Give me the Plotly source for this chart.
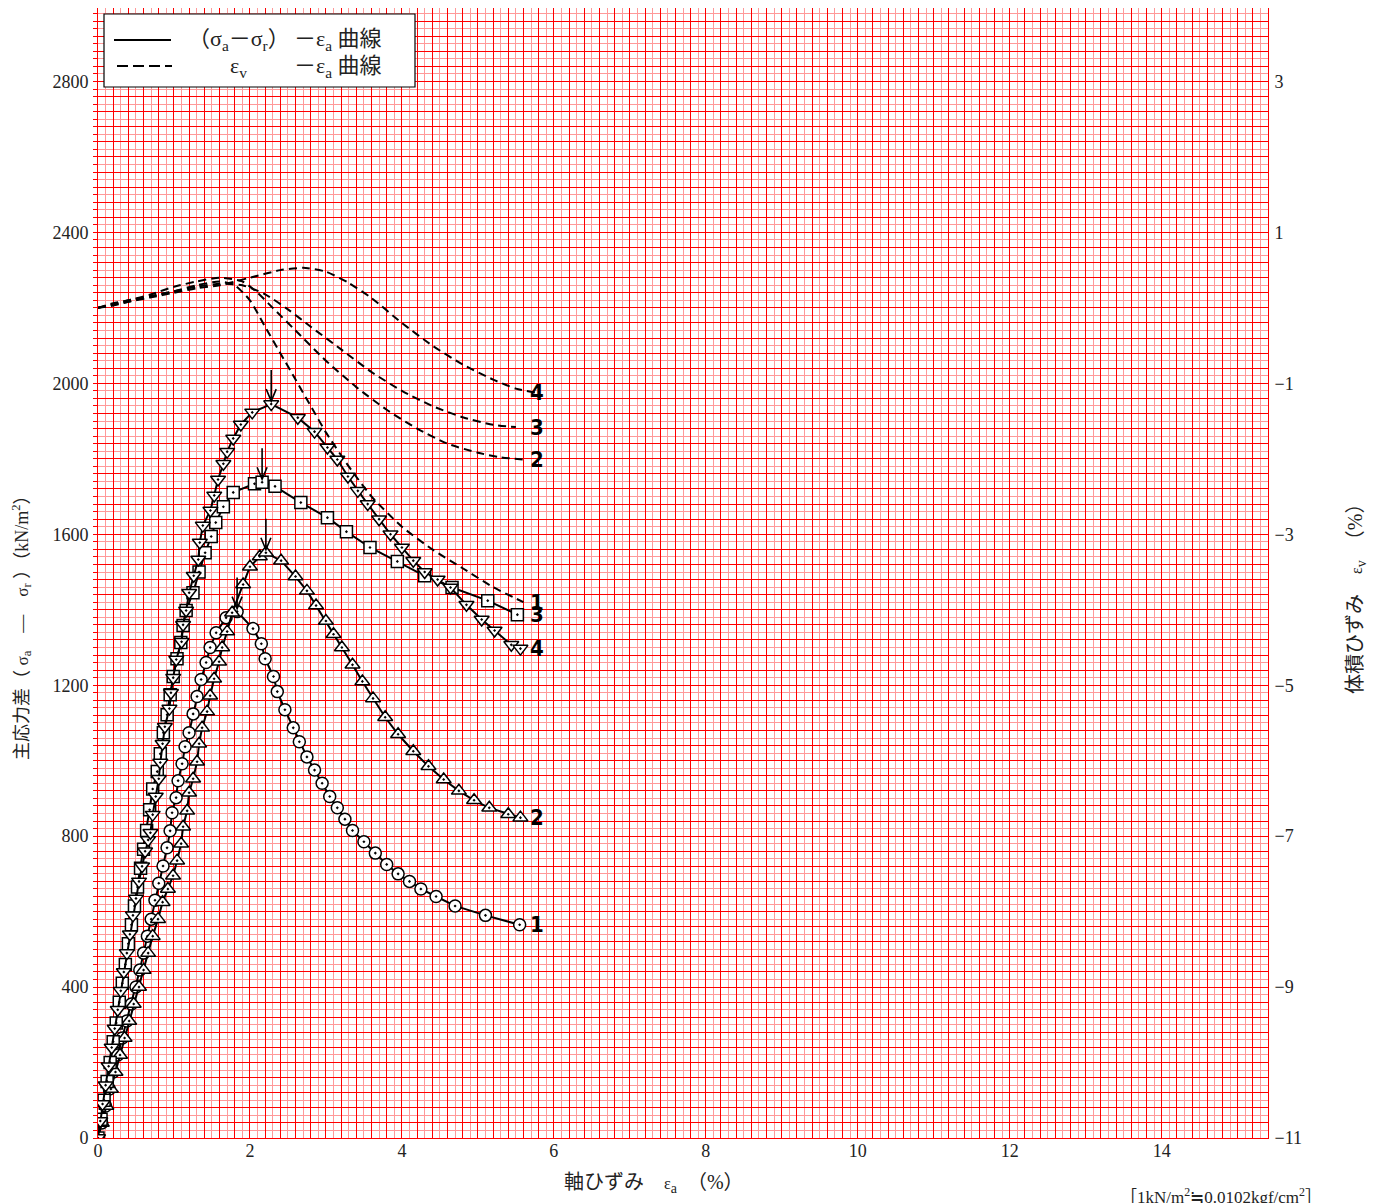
import plotly.graph_objects as go

# ---------------- data ----------------
# curve 1 : circles
c1_x = [0, 0.05, 0.1, 0.15, 0.2, 0.26, 0.32, 0.38, 0.44, 0.5, 0.55, 0.6, 0.65, 0.7, 0.75, 0.8,
        0.856, 0.909, 0.949, 0.975, 1.028, 1.054, 1.107, 1.146, 1.199, 1.252, 1.304, 1.357,
        1.423, 1.476, 1.555, 1.686, 1.831, 2.04, 2.15, 2.20, 2.31, 2.36, 2.46, 2.57, 2.65,
        2.75, 2.85, 2.95, 3.05, 3.15, 3.25, 3.35, 3.5, 3.65, 3.8, 3.95, 4.1, 4.25, 4.45, 4.7,
        5.1, 5.55]
c1_y = [0, 40, 85, 130, 175, 220, 265, 310, 355, 400, 445, 490, 535, 580, 630, 675,
        721, 769, 814, 862, 902, 947, 992, 1037, 1074, 1124, 1170, 1215,
        1260, 1300, 1339, 1379, 1395, 1350, 1310, 1270, 1223, 1183, 1135, 1087, 1050,
        1010, 975, 940, 905, 875, 845, 815, 785, 755, 725, 700, 680, 660, 640, 615,
        590, 565]

# curve 2 : triangles up
c2_x = [0, 0.05, 0.11, 0.17, 0.23, 0.29, 0.35, 0.41, 0.47, 0.54, 0.6, 0.66, 0.72, 0.79, 0.85,
        0.92, 0.988, 1.041, 1.094, 1.120, 1.173, 1.199, 1.252, 1.304, 1.331, 1.370, 1.436,
        1.476, 1.528, 1.594, 1.634, 1.700, 1.765, 1.910, 2.0, 2.13, 2.21, 2.41, 2.60, 2.75,
        2.87, 3.0, 3.1, 3.21, 3.35, 3.48, 3.62, 3.78, 3.95, 4.15, 4.35, 4.55, 4.75, 4.95,
        5.15, 5.4, 5.56]
c2_y = [0, 40, 85, 130, 175, 220, 265, 310, 355, 400, 445, 490, 535, 580, 625,
        660, 695, 735, 780, 825, 867, 915, 952, 997, 1045, 1087, 1130,
        1172, 1217, 1262, 1300, 1342, 1392, 1467, 1514, 1541, 1551, 1530, 1488, 1450,
        1411, 1370, 1335, 1300, 1254, 1210, 1165, 1115, 1070, 1025, 985, 950, 920, 895,
        875, 858, 849]

# curve 3 : squares
c3_x = [0, 0.04, 0.08, 0.12, 0.16, 0.2, 0.24, 0.28, 0.32, 0.36, 0.4, 0.44, 0.48, 0.52, 0.56,
        0.6, 0.64, 0.68, 0.72, 0.78, 0.82, 0.86, 0.91, 0.95, 0.99, 1.04, 1.09, 1.12, 1.16,
        1.25, 1.33, 1.41, 1.49, 1.55, 1.65, 1.78, 2.06, 2.16, 2.33, 2.67, 3.02, 3.27, 3.58,
        3.94, 4.30, 4.66, 5.13, 5.52]
c3_y = [0, 50, 100, 150, 200, 255, 305, 360, 410, 460, 515, 565, 615, 665, 715,
        765, 815, 870, 925, 971, 1018, 1074, 1122, 1175, 1223, 1270, 1313, 1358, 1398,
        1445, 1500, 1551, 1594, 1631, 1673, 1711, 1734, 1738, 1727, 1684, 1644, 1607, 1565,
        1528, 1490, 1459, 1424, 1387]

# curve 4 : triangles down
c4_x = [0, 0.03, 0.06, 0.1, 0.14, 0.18, 0.22, 0.26, 0.3, 0.34, 0.38, 0.42, 0.46, 0.5, 0.54,
        0.58, 0.62, 0.66, 0.69, 0.72, 0.76, 0.80, 0.82, 0.85, 0.88, 0.94, 0.96, 0.99, 1.03,
        1.10, 1.12, 1.16, 1.20, 1.26, 1.32, 1.34, 1.38, 1.48, 1.53, 1.58, 1.65, 1.70, 1.78,
        1.88, 2.03, 2.28, 2.63, 2.85, 3.02, 3.15, 3.29, 3.42, 3.55, 3.7, 3.85, 4.0, 4.15,
        4.3, 4.47, 4.64, 4.85, 5.05, 5.22, 5.44, 5.56]
c4_y = [0, 45, 90, 140, 190, 240, 290, 340, 390, 440, 490, 540, 590, 635, 680,
        720, 760, 790, 809, 857, 905, 952, 995, 1045, 1090, 1138, 1180, 1220, 1268,
        1315, 1360, 1398, 1445, 1490, 1533, 1578, 1623, 1663, 1703, 1745, 1787, 1819, 1854,
        1891, 1923, 1945, 1909, 1872, 1830, 1798, 1753, 1715, 1680, 1640, 1600, 1565, 1530,
        1500, 1480, 1459, 1413, 1374, 1345, 1307, 1297]

# volumetric strain curves (right axis, %)
v1_x = [0, 0.2, 0.4, 0.7, 1.0, 1.3, 1.6, 1.8, 2.0, 2.2, 2.4, 2.6, 2.8, 3.0, 3.3, 3.6, 4.0, 4.4, 4.8, 5.2, 5.6]
v1_y = [0, 0.05, 0.1, 0.15, 0.22, 0.3, 0.35, 0.3, 0.1, -0.25, -0.6, -0.95, -1.3, -1.65, -2.1, -2.5, -2.9, -3.2, -3.45, -3.7, -3.9]
v2_x = [0, 0.2, 0.4, 0.7, 1.0, 1.3, 1.6, 1.9, 2.1, 2.3, 2.6, 3.0, 3.4, 3.8, 4.2, 4.6, 5.0, 5.3, 5.6]
v2_y = [0, 0.06, 0.1, 0.18, 0.28, 0.35, 0.4, 0.35, 0.2, 0.0, -0.3, -0.7, -1.05, -1.35, -1.6, -1.8, -1.92, -1.98, -2.01]
v3_x = [0, 0.2, 0.4, 0.7, 1.0, 1.3, 1.6, 1.9, 2.2, 2.5, 2.8, 3.2, 3.6, 4.0, 4.4, 4.8, 5.2, 5.5]
v3_y = [0, 0.03, 0.08, 0.16, 0.22, 0.28, 0.32, 0.3, 0.18, -0.02, -0.25, -0.55, -0.85, -1.1, -1.3, -1.45, -1.55, -1.58]
v4_x = [0, 0.2, 0.4, 0.7, 1.0, 1.3, 1.6, 2.0, 2.4, 2.7, 3.0, 3.3, 3.6, 4.0, 4.4, 4.8, 5.2, 5.5, 5.75]
v4_y = [0, 0.04, 0.08, 0.14, 0.2, 0.26, 0.3, 0.4, 0.5, 0.53, 0.48, 0.33, 0.13, -0.2, -0.5, -0.75, -0.95, -1.07, -1.12]

curve_labels = ["1", "2", "3", "4"]
x_tick_vals = [0, 2, 4, 6, 8, 10, 12, 14]
y_tick_vals = [0, 400, 800, 1200, 1600, 2000, 2400, 2800]
y2_tick_vals = [-11, -9, -7, -5, -3, -1, 1, 3]

# ---------------- layout helpers ----------------
# page has an 8px body margin; the figure is sized so that it ends at the window edge
OFF = 8
W, H = 1383 - OFF, 1203 - OFF
L, R, T, B = 98, 1268, 8, 1138          # plot-area edges in page pixels
PX_PER_Y = 1132 / 3000.0                  # pixels per kN/m^2
XMAX = 15.4
YMAX = (B - T) / PX_PER_Y
Y2MIN = -11.0
Y2MAX = Y2MIN + YMAX / 200.0


def pxx(p):
    return (p - L) / (R - L)


def pxy(p):
    return (B - p) / (B - T)


UX = XMAX / (R - L)        # data units per pixel, x
UY = YMAX / (B - T)        # data units per pixel, y

SERIF = "Liberation Serif, DejaVu Serif, Noto Sans CJK JP, serif"
JP = "Liberation Serif, Noto Sans CJK JP, serif"
LABELF = dict(family="Liberation Sans Narrow, DejaVu Sans Condensed, Arial Narrow, sans-serif",
              size=22, color="black")

fig = go.Figure()

# dashed volumetric strain curves
vols = [(v1_x, v1_y), (v2_x, v2_y), (v3_x, v3_y), (v4_x, v4_y)]
for vx, vy in vols:
    fig.add_trace(go.Scatter(x=vx, y=vy, mode="lines", xaxis="x", yaxis="y2",
                             line=dict(color="black", width=2, dash="8px,5px", shape="spline",
                                       smoothing=0.6),
                             showlegend=False, hoverinfo="skip"))

# stress-strain curves
series = [(c1_x, c1_y, "circle-dot", 12), (c2_x, c2_y, "triangle-up-dot", 13),
          (c3_x, c3_y, "square-dot", 12), (c4_x, c4_y, "triangle-down-dot", 13)]
for sx, sy, sym, sz in series:
    fig.add_trace(go.Scatter(x=sx, y=sy, mode="lines+markers", xaxis="x", yaxis="y",
                             line=dict(color="black", width=2),
                             marker=dict(symbol=sym, size=sz, color="white",
                                         line=dict(color="black", width=1.5)),
                             showlegend=False, hoverinfo="skip"))

# dummy traces so the label / grid overlay axes are drawn
fig.add_trace(go.Scatter(x=[], y=[], xaxis="x3", yaxis="y3", showlegend=False, hoverinfo="skip"))
fig.add_trace(go.Scatter(x=[], y=[], xaxis="x4", yaxis="y4", showlegend=False, hoverinfo="skip"))

annotations = []
shapes = []
# peak arrows (open V heads), positioned from each curve's maximum
for sx, sy, _, _ in series:
    i = max(range(len(sy)), key=lambda k: sy[k])
    xp, yp = sx[i], sy[i]
    tip = yp + 3 * UY
    path = "M %f,%f L %f,%f M %f,%f L %f,%f L %f,%f" % (
        xp, yp + 34 * UY, xp, tip,
        xp - 5 * UX, tip + 12 * UY, xp, tip, xp + 5 * UX, tip + 12 * UY)
    shapes.append(dict(type="path", xref="x", yref="y", path=path,
                       line=dict(color="black", width=1.6), layer="above"))

# curve end labels
LABX = 5.78
for lab, (sx, sy, _, _) in zip(curve_labels, series):
    annotations.append(dict(x=LABX, y=sy[-1], xref="x", yref="y", text="<b>%s</b>" % lab,
                            xanchor="center", yanchor="middle", showarrow=False, font=LABELF))
for lab, (vx, vy) in zip(curve_labels, vols):
    annotations.append(dict(x=LABX, y=vy[-1], xref="x", yref="y2", text="<b>%s</b>" % lab,
                            xanchor="center", yanchor="middle", showarrow=False, font=LABELF))

# axis titles
annotations.append(dict(x=pxx(654), y=pxy(1183), xref="paper", yref="paper",
                        xanchor="center", yanchor="middle",
                        text="軸ひずみ　<span style='font-size:16px'>ε</span><sub>a</sub>　（%）",
                        showarrow=False, font=dict(family=JP, size=20, color="#222")))
annotations.append(dict(x=pxx(21), y=pxy(624), xref="paper", yref="paper", textangle=-90,
                        xanchor="center", yanchor="middle",
                        text="主応力差（ <span style='font-size:17px'>σ</span><sub>a</sub>　—　"
                             "<span style='font-size:17px'>σ</span><sub>r</sub> ）（kN/m<sup>2</sup>）",
                        showarrow=False, font=dict(family=JP, size=18, color="#222")))
annotations.append(dict(x=pxx(1356), y=pxy(594), xref="paper", yref="paper", textangle=-90,
                        xanchor="center", yanchor="middle",
                        text="体積ひずみ　<span style='font-size:16px'>ε</span><sub>v</sub>　（%）",
                        showarrow=False, font=dict(family=JP, size=20, color="#222")))
annotations.append(dict(x=pxx(1118), y=pxy(1196), xref="paper", yref="paper",
                        xanchor="left", yanchor="middle",
                        text="［1kN/m<sup>2</sup>≒0.0102kgf/cm<sup>2</sup>］",
                        showarrow=False, font=dict(family=JP, size=17, color="#222")))

# legend (drawn manually)
shapes += [
    dict(type="rect", xref="paper", yref="paper", x0=pxx(104), x1=pxx(415), y0=pxy(87), y1=pxy(14),
         fillcolor="white", line=dict(color="black", width=1.2), layer="above"),
    dict(type="line", xref="paper", yref="paper", x0=pxx(114), x1=pxx(171), y0=pxy(40), y1=pxy(40),
         line=dict(color="black", width=2), layer="above"),
    dict(type="line", xref="paper", yref="paper", x0=pxx(117), x1=pxx(172), y0=pxy(66), y1=pxy(66),
         line=dict(color="black", width=2, dash="11px,5px"), layer="above"),
]
LEGF = dict(family=JP, size=22, color="#222")
for xx, yy, txt in [(186, 40, "（σ<sub>a</sub>－σ<sub>r</sub>）"),
                    (292, 40, "－ε<sub>a</sub> 曲線"),
                    (228, 67, "ε<sub>v</sub>"),
                    (292, 67, "－ε<sub>a</sub> 曲線")]:
    annotations.append(dict(x=pxx(xx), y=pxy(yy), xref="paper", yref="paper",
                            xanchor="left", yanchor="middle", showarrow=False,
                            text=txt, font=LEGF))

GRID = "#ff0000"        # strong grid lines
GRIDL = "#ff9999"       # light grid lines in between
TICKF = dict(family=SERIF, size=18, color="#222")

fig.update_layout(
    width=W, height=H, margin=dict(l=L - OFF, r=1383 - R, t=T - OFF, b=1203 - B, pad=0),
    paper_bgcolor="white", plot_bgcolor="white", showlegend=False,
    # main data axes: fine (light) grid
    xaxis=dict(range=[0, XMAX], domain=[0, 1], anchor="y", tick0=0, dtick=0.1,
               showgrid=True, gridcolor=GRIDL, gridwidth=1, zeroline=False,
               showticklabels=False, ticks="", showline=True, linecolor="red", linewidth=1,
               mirror=True),
    yaxis=dict(range=[0, YMAX], domain=[0, 1], anchor="x", tick0=0, dtick=20,
               showgrid=True, gridcolor=GRIDL, gridwidth=1, zeroline=False,
               showticklabels=False, ticks="outside", ticklen=4, tickcolor="red",
               showline=True, linecolor="red", linewidth=1, mirror=True),
    # overlay axes: strong grid
    xaxis4=dict(range=[0, XMAX], overlaying="x", anchor="y4", tick0=0, dtick=0.2,
                showgrid=True, gridcolor=GRID, gridwidth=1, zeroline=False,
                showticklabels=False, ticks="", showline=False),
    yaxis4=dict(range=[0, YMAX], overlaying="y", anchor="x4", tick0=0, dtick=40,
                showgrid=True, gridcolor=GRID, gridwidth=1, zeroline=False,
                showticklabels=False, ticks="", showline=False),
    # overlay axes: tick labels
    xaxis3=dict(range=[0, XMAX], overlaying="x", anchor="y", side="bottom",
                tickmode="array", tickvals=x_tick_vals, ticktext=[str(v) for v in x_tick_vals],
                showgrid=False, zeroline=False, showline=False, ticks="",
                tickfont=TICKF),
    yaxis3=dict(range=[0, YMAX], overlaying="y", anchor="x", side="left",
                tickmode="array", tickvals=y_tick_vals, ticktext=[str(v) for v in y_tick_vals],
                showgrid=False, zeroline=False, showline=False, ticks="outside",
                ticklen=5, tickcolor="rgba(0,0,0,0)", tickfont=TICKF),
    yaxis2=dict(range=[Y2MIN, Y2MAX], overlaying="y", anchor="x", side="right",
                tickmode="array", tickvals=y2_tick_vals,
                ticktext=[("−%d" % -v) if v < 0 else str(v) for v in y2_tick_vals],
                showgrid=False, zeroline=False, showline=False, ticks="outside",
                ticklen=2, tickcolor="rgba(0,0,0,0)", tickfont=TICKF),
    annotations=annotations, shapes=shapes,
)

fig.write_html("out.html")
